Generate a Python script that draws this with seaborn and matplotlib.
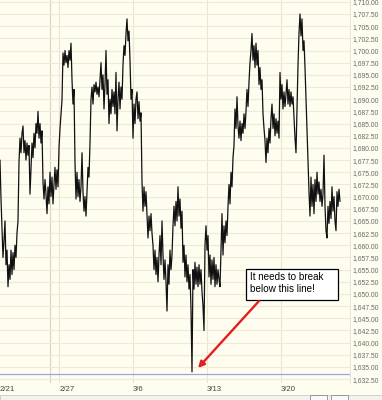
import numpy as np
import pandas as pd
import matplotlib
matplotlib.use("Agg")
import matplotlib.pyplot as plt
from matplotlib.patches import Rectangle
import seaborn as sns

# ---- data (intraday price path, sampled evenly through the trading sessions) ----
price = [
    1677.5, 1669.5, 1663.5, 1657.5, 1661.0, 1665.0, 1656.0, 1659.0, 1651.5, 1656.0,
    1653.0, 1659.0, 1654.0, 1658.5, 1655.0, 1660.0, 1657.5, 1662.5, 1665.0, 1677.0,
    1682.0, 1679.0, 1683.0, 1684.5, 1679.0, 1681.5, 1677.5, 1681.0, 1678.5, 1680.5,
    1670.5, 1676.0, 1681.0, 1678.0, 1683.0, 1680.0, 1685.0, 1683.0, 1687.5, 1682.0,
    1685.0, 1681.0, 1683.5, 1673.0, 1669.5, 1673.5, 1670.5, 1666.5, 1672.0, 1668.5,
    1675.0, 1670.0, 1674.0, 1668.5, 1672.5, 1676.0, 1671.5, 1675.5, 1672.0, 1680.0,
    1684.0, 1687.0, 1689.8, 1699.5, 1697.0, 1700.0, 1697.5, 1699.0, 1696.5, 1700.0,
    1698.0, 1701.5, 1694.0, 1689.0, 1692.0, 1677.0, 1669.5, 1675.0, 1670.0, 1673.5,
    1669.0, 1672.0, 1679.0, 1671.0, 1667.0, 1670.0, 1666.0, 1671.0, 1676.0, 1674.0,
    1681.0, 1690.0, 1692.5, 1689.0, 1693.0, 1691.5, 1693.5, 1691.0, 1692.5, 1690.5,
    1694.0, 1697.5, 1692.0, 1695.0, 1688.0, 1693.0, 1700.0, 1691.0, 1694.0, 1685.0,
    1690.0, 1687.0, 1692.0, 1688.5, 1691.5, 1687.0, 1695.5, 1683.5, 1690.0, 1693.5,
    1688.0, 1692.5, 1690.0, 1697.0, 1701.0, 1699.0, 1703.5, 1706.5, 1702.0, 1704.0,
    1698.0, 1690.0, 1692.0, 1682.0, 1689.0, 1685.0, 1690.0, 1691.5, 1686.0, 1689.5,
    1685.5, 1687.2, 1673.0, 1667.0, 1672.0, 1668.0, 1671.0, 1666.0, 1661.5, 1666.0,
    1663.0, 1666.5, 1662.5, 1660.0, 1655.0, 1659.0, 1654.0, 1657.5, 1652.5, 1658.0,
    1662.0, 1656.0, 1665.0, 1658.0, 1653.0, 1657.0, 1652.5, 1646.5, 1656.0, 1652.0,
    1659.0, 1655.0, 1658.0, 1664.0, 1668.0, 1664.0, 1669.0, 1665.0, 1672.0, 1666.0,
    1669.5, 1663.5, 1667.0, 1656.5, 1660.0, 1653.5, 1658.0, 1652.5, 1656.0, 1651.0,
    1654.0, 1647.0, 1634.0, 1655.0, 1651.0, 1656.5, 1652.0, 1655.5, 1651.5, 1656.0,
    1652.0, 1655.0, 1650.5, 1647.5, 1642.5, 1660.0, 1664.0, 1659.0, 1662.0, 1653.5,
    1658.0, 1652.0, 1657.0, 1653.0, 1657.5, 1651.5, 1656.0, 1652.0, 1655.0, 1653.0,
    1651.5, 1659.0, 1666.5, 1658.0, 1664.0, 1660.5, 1665.0, 1662.0, 1668.0, 1672.5,
    1668.5, 1675.0, 1672.0, 1678.0, 1680.5, 1688.0, 1684.0, 1690.5, 1684.5, 1682.0,
    1685.5, 1681.5, 1685.0, 1683.0, 1687.0, 1684.0, 1687.5, 1692.0, 1688.5, 1693.5,
    1697.5, 1700.0, 1703.5, 1698.0, 1701.0, 1696.5, 1701.5, 1697.0, 1700.0, 1693.0,
    1696.5, 1692.0, 1694.0, 1687.0, 1684.0, 1681.5, 1677.0, 1682.0, 1679.0, 1684.0,
    1681.0, 1686.0, 1689.0, 1684.0, 1687.0, 1682.5, 1686.0, 1683.0, 1685.5, 1682.0,
    1695.5, 1690.0, 1693.0, 1688.0, 1691.5, 1688.5, 1691.0, 1694.0, 1689.0, 1692.0,
    1688.5, 1691.5, 1689.0, 1690.5, 1686.0, 1682.0, 1679.0, 1688.0, 1697.0, 1703.5,
    1707.5, 1703.0, 1706.5, 1700.0, 1702.0, 1696.5, 1690.0, 1684.0, 1677.0, 1671.0,
    1666.0, 1674.0, 1668.0, 1672.5, 1666.5, 1673.5, 1669.0, 1675.0, 1670.5, 1673.0,
    1669.0, 1671.5, 1668.0, 1670.5, 1678.5, 1668.0, 1663.0, 1661.5, 1668.0, 1664.5,
    1669.0, 1665.5, 1672.0, 1667.0, 1670.0, 1665.0, 1663.0, 1671.0, 1668.0, 1671.5,
    1669.0,
]
samples_per_day = 14.8                      # samples per trading day
date_labels = ["2/21", "2/27", "3/6", "3/13", "3/20"]
date_days = [0, 4, 9, 14, 19]               # trading-day offsets from 2/21
session_marker_day = 3.38
support_level = 1633.6
y_ticks = np.arange(1632.5, 1710.01, 2.5)

df = pd.DataFrame({"day": np.arange(len(price)) / samples_per_day, "price": price})

# ---- figure ----
W, H = 382, 400
BG = "#FEFDF0"
sns.set_theme(style="white")
plt.rcParams["font.family"] = ["Liberation Sans", "DejaVu Sans"]

fig = plt.figure(figsize=(W / 100, H / 100), dpi=100)
fig.patch.set_facecolor(BG)
ax_w_px, ax_h_px = 350, 383
ax = fig.add_axes([0, 1 - ax_h_px / H, ax_w_px / W, ax_h_px / H])
ax.set_facecolor(BG)

ax.set_ylim(1707.5 - 369 / 4.869, 1707.5 + 14 / 4.869)
ax.set_xlim(0, ax_w_px / samples_per_day)

ax.set_yticks(y_ticks)
ax.set_yticklabels([f"{v:,.2f}" for v in y_ticks])
ax.grid(axis="y", color="#EEEAD4", lw=0.8)
ax.grid(axis="x", visible=False)
ax.yaxis.tick_right()
ax.tick_params(axis="y", length=0, pad=1.8, labelsize=4.9, labelcolor="#6A6A6A")

ax.set_xticks(date_days)
ax.set_xticklabels(date_labels, ha="left")
ax.tick_params(axis="x", length=0, pad=2, labelsize=5.6, labelcolor="#444444")

for d in date_days[1:]:
    ax.axvline(d, color="#E9E5CF", lw=0.8, zorder=0.5)
ax.axvline(session_marker_day, color="#D6D2C0", lw=0.8, zorder=0.5)

for s in ["top", "left", "bottom"]:
    ax.spines[s].set_visible(False)
ax.spines["right"].set_color("#E4E0CC")
ax.spines["right"].set_linewidth(0.6)

ax.axhline(support_level, color="#9CA6E2", lw=0.9, zorder=1)

sns.lineplot(data=df, x="day", y="price", ax=ax, color="#121212",
             lw=0.9, estimator=None, sort=False, zorder=3)
ax.set_xlabel("")
ax.set_ylabel("")

def afx(px):
    return px / ax_w_px

def afy(py):
    return 1 - py / ax_h_px

# annotation box
ax.add_patch(Rectangle((afx(246), afy(300)), afx(338) - afx(246), afy(269) - afy(300),
                       transform=ax.transAxes, facecolor="white", edgecolor="black",
                       lw=0.9, zorder=5))
ax.text(afx(249.5), afy(283.5), "It needs to break\nbelow this line!",
        transform=ax.transAxes, ha="left", va="center", fontsize=7.1,
        linespacing=1.25, color="black", zorder=6)

ax.annotate("", xy=(afx(198), afy(368)), xytext=(afx(259), afy(301)),
            xycoords="axes fraction", textcoords="axes fraction",
            arrowprops=dict(arrowstyle="-|>", color="#E41E1E", lw=1.7,
                            mutation_scale=9, shrinkA=0, shrinkB=0),
            zorder=6)

# bottom scrollbar strip
fig.add_artist(Rectangle((0, 0), 1, 5 / H, transform=fig.transFigure,
                         facecolor="#F3F2EC", edgecolor="#C9C9C9", lw=0.6))
for bx in (310, 331):
    fig.add_artist(Rectangle((bx / W, -0.01), 17 / W, 5 / H + 0.01,
                             transform=fig.transFigure, facecolor="#FAFAFA",
                             edgecolor="#8A8A8A", lw=0.6))

fig.savefig("out.png", dpi=100, facecolor=BG)
